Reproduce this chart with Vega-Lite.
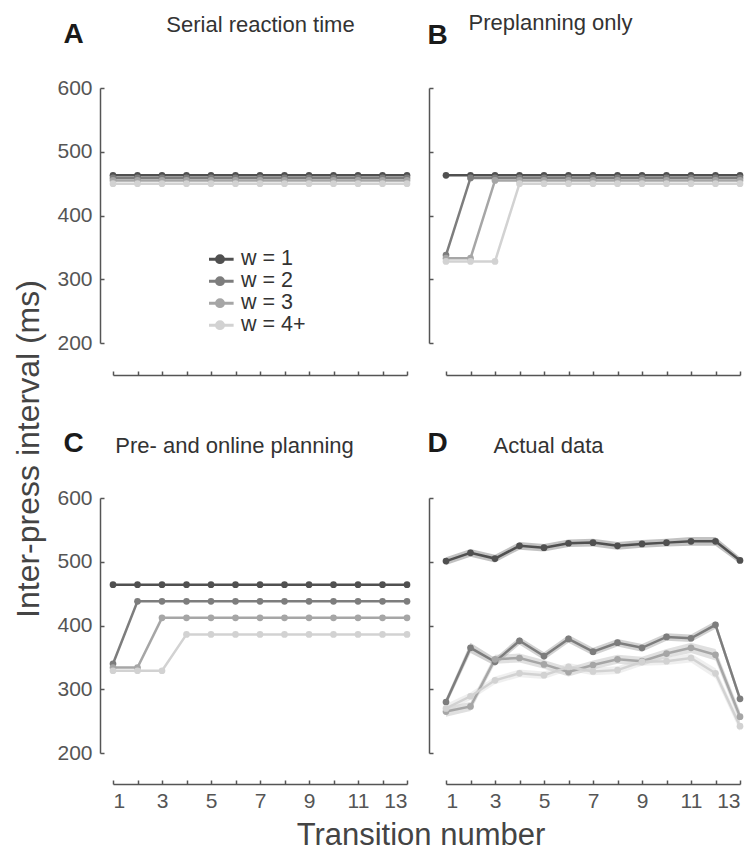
{
  "$schema": "https://vega.github.io/schema/vega-lite/v6.json",
  "background": "white",
  "padding": {"left": 12, "top": 11, "right": 5, "bottom": 3},
  "autosize": {"type": "pad"},
  "config": {
    "view": {"stroke": null},
    "font": "Liberation Sans",
    "axis": {
      "grid": false,
      "domainColor": "#555555",
      "domainWidth": 1.5,
      "tickColor": "#555555",
      "tickWidth": 1.5,
      "tickSize": -4,
      "labelColor": "#555555",
      "labelFont": "Liberation Sans",
      "labelFontSize": 21,
      "labelPadding": 12,
      "titleFont": "Liberation Sans",
      "titleFontSize": 28,
      "titleFontWeight": "bold",
      "titleColor": "#1a1a1a"
    },
    "axisX": {
      "titleFontSize": 22,
      "titleFontWeight": "normal",
      "titleColor": "#333333",
      "titleAngle": 0,
      "titleAlign": "center",
      "titleBaseline": "alphabetic"
    }
  },
  "datasets": {
    "sim": [
      {"p":"A","w":"w = 1","t":1,"v":463},{"p":"A","w":"w = 1","t":2,"v":463},{"p":"A","w":"w = 1","t":3,"v":463},{"p":"A","w":"w = 1","t":4,"v":463},{"p":"A","w":"w = 1","t":5,"v":463},{"p":"A","w":"w = 1","t":6,"v":463},{"p":"A","w":"w = 1","t":7,"v":463},{"p":"A","w":"w = 1","t":8,"v":463},{"p":"A","w":"w = 1","t":9,"v":463},{"p":"A","w":"w = 1","t":10,"v":463},{"p":"A","w":"w = 1","t":11,"v":463},{"p":"A","w":"w = 1","t":12,"v":463},{"p":"A","w":"w = 1","t":13,"v":463},
      {"p":"A","w":"w = 2","t":1,"v":459},{"p":"A","w":"w = 2","t":2,"v":459},{"p":"A","w":"w = 2","t":3,"v":459},{"p":"A","w":"w = 2","t":4,"v":459},{"p":"A","w":"w = 2","t":5,"v":459},{"p":"A","w":"w = 2","t":6,"v":459},{"p":"A","w":"w = 2","t":7,"v":459},{"p":"A","w":"w = 2","t":8,"v":459},{"p":"A","w":"w = 2","t":9,"v":459},{"p":"A","w":"w = 2","t":10,"v":459},{"p":"A","w":"w = 2","t":11,"v":459},{"p":"A","w":"w = 2","t":12,"v":459},{"p":"A","w":"w = 2","t":13,"v":459},
      {"p":"A","w":"w = 3","t":1,"v":455},{"p":"A","w":"w = 3","t":2,"v":455},{"p":"A","w":"w = 3","t":3,"v":455},{"p":"A","w":"w = 3","t":4,"v":455},{"p":"A","w":"w = 3","t":5,"v":455},{"p":"A","w":"w = 3","t":6,"v":455},{"p":"A","w":"w = 3","t":7,"v":455},{"p":"A","w":"w = 3","t":8,"v":455},{"p":"A","w":"w = 3","t":9,"v":455},{"p":"A","w":"w = 3","t":10,"v":455},{"p":"A","w":"w = 3","t":11,"v":455},{"p":"A","w":"w = 3","t":12,"v":455},{"p":"A","w":"w = 3","t":13,"v":455},
      {"p":"A","w":"w = 4+","t":1,"v":450},{"p":"A","w":"w = 4+","t":2,"v":450},{"p":"A","w":"w = 4+","t":3,"v":450},{"p":"A","w":"w = 4+","t":4,"v":450},{"p":"A","w":"w = 4+","t":5,"v":450},{"p":"A","w":"w = 4+","t":6,"v":450},{"p":"A","w":"w = 4+","t":7,"v":450},{"p":"A","w":"w = 4+","t":8,"v":450},{"p":"A","w":"w = 4+","t":9,"v":450},{"p":"A","w":"w = 4+","t":10,"v":450},{"p":"A","w":"w = 4+","t":11,"v":450},{"p":"A","w":"w = 4+","t":12,"v":450},{"p":"A","w":"w = 4+","t":13,"v":450},
      {"p":"B","w":"w = 1","t":1,"v":463},{"p":"B","w":"w = 1","t":2,"v":463},{"p":"B","w":"w = 1","t":3,"v":463},{"p":"B","w":"w = 1","t":4,"v":463},{"p":"B","w":"w = 1","t":5,"v":463},{"p":"B","w":"w = 1","t":6,"v":463},{"p":"B","w":"w = 1","t":7,"v":463},{"p":"B","w":"w = 1","t":8,"v":463},{"p":"B","w":"w = 1","t":9,"v":463},{"p":"B","w":"w = 1","t":10,"v":463},{"p":"B","w":"w = 1","t":11,"v":463},{"p":"B","w":"w = 1","t":12,"v":463},{"p":"B","w":"w = 1","t":13,"v":463},
      {"p":"B","w":"w = 2","t":1,"v":338},{"p":"B","w":"w = 2","t":2,"v":459},{"p":"B","w":"w = 2","t":3,"v":459},{"p":"B","w":"w = 2","t":4,"v":459},{"p":"B","w":"w = 2","t":5,"v":459},{"p":"B","w":"w = 2","t":6,"v":459},{"p":"B","w":"w = 2","t":7,"v":459},{"p":"B","w":"w = 2","t":8,"v":459},{"p":"B","w":"w = 2","t":9,"v":459},{"p":"B","w":"w = 2","t":10,"v":459},{"p":"B","w":"w = 2","t":11,"v":459},{"p":"B","w":"w = 2","t":12,"v":459},{"p":"B","w":"w = 2","t":13,"v":459},
      {"p":"B","w":"w = 3","t":1,"v":333},{"p":"B","w":"w = 3","t":2,"v":333},{"p":"B","w":"w = 3","t":3,"v":455},{"p":"B","w":"w = 3","t":4,"v":455},{"p":"B","w":"w = 3","t":5,"v":455},{"p":"B","w":"w = 3","t":6,"v":455},{"p":"B","w":"w = 3","t":7,"v":455},{"p":"B","w":"w = 3","t":8,"v":455},{"p":"B","w":"w = 3","t":9,"v":455},{"p":"B","w":"w = 3","t":10,"v":455},{"p":"B","w":"w = 3","t":11,"v":455},{"p":"B","w":"w = 3","t":12,"v":455},{"p":"B","w":"w = 3","t":13,"v":455},
      {"p":"B","w":"w = 4+","t":1,"v":328},{"p":"B","w":"w = 4+","t":2,"v":328},{"p":"B","w":"w = 4+","t":3,"v":328},{"p":"B","w":"w = 4+","t":4,"v":450},{"p":"B","w":"w = 4+","t":5,"v":450},{"p":"B","w":"w = 4+","t":6,"v":450},{"p":"B","w":"w = 4+","t":7,"v":450},{"p":"B","w":"w = 4+","t":8,"v":450},{"p":"B","w":"w = 4+","t":9,"v":450},{"p":"B","w":"w = 4+","t":10,"v":450},{"p":"B","w":"w = 4+","t":11,"v":450},{"p":"B","w":"w = 4+","t":12,"v":450},{"p":"B","w":"w = 4+","t":13,"v":450},
      {"p":"C","w":"w = 1","t":1,"v":464},{"p":"C","w":"w = 1","t":2,"v":464},{"p":"C","w":"w = 1","t":3,"v":464},{"p":"C","w":"w = 1","t":4,"v":464},{"p":"C","w":"w = 1","t":5,"v":464},{"p":"C","w":"w = 1","t":6,"v":464},{"p":"C","w":"w = 1","t":7,"v":464},{"p":"C","w":"w = 1","t":8,"v":464},{"p":"C","w":"w = 1","t":9,"v":464},{"p":"C","w":"w = 1","t":10,"v":464},{"p":"C","w":"w = 1","t":11,"v":464},{"p":"C","w":"w = 1","t":12,"v":464},{"p":"C","w":"w = 1","t":13,"v":464},
      {"p":"C","w":"w = 2","t":1,"v":340},{"p":"C","w":"w = 2","t":2,"v":438},{"p":"C","w":"w = 2","t":3,"v":438},{"p":"C","w":"w = 2","t":4,"v":438},{"p":"C","w":"w = 2","t":5,"v":438},{"p":"C","w":"w = 2","t":6,"v":438},{"p":"C","w":"w = 2","t":7,"v":438},{"p":"C","w":"w = 2","t":8,"v":438},{"p":"C","w":"w = 2","t":9,"v":438},{"p":"C","w":"w = 2","t":10,"v":438},{"p":"C","w":"w = 2","t":11,"v":438},{"p":"C","w":"w = 2","t":12,"v":438},{"p":"C","w":"w = 2","t":13,"v":438},
      {"p":"C","w":"w = 3","t":1,"v":334},{"p":"C","w":"w = 3","t":2,"v":334},{"p":"C","w":"w = 3","t":3,"v":412},{"p":"C","w":"w = 3","t":4,"v":412},{"p":"C","w":"w = 3","t":5,"v":412},{"p":"C","w":"w = 3","t":6,"v":412},{"p":"C","w":"w = 3","t":7,"v":412},{"p":"C","w":"w = 3","t":8,"v":412},{"p":"C","w":"w = 3","t":9,"v":412},{"p":"C","w":"w = 3","t":10,"v":412},{"p":"C","w":"w = 3","t":11,"v":412},{"p":"C","w":"w = 3","t":12,"v":412},{"p":"C","w":"w = 3","t":13,"v":412},
      {"p":"C","w":"w = 4+","t":1,"v":329},{"p":"C","w":"w = 4+","t":2,"v":329},{"p":"C","w":"w = 4+","t":3,"v":329},{"p":"C","w":"w = 4+","t":4,"v":386},{"p":"C","w":"w = 4+","t":5,"v":386},{"p":"C","w":"w = 4+","t":6,"v":386},{"p":"C","w":"w = 4+","t":7,"v":386},{"p":"C","w":"w = 4+","t":8,"v":386},{"p":"C","w":"w = 4+","t":9,"v":386},{"p":"C","w":"w = 4+","t":10,"v":386},{"p":"C","w":"w = 4+","t":11,"v":386},{"p":"C","w":"w = 4+","t":12,"v":386},{"p":"C","w":"w = 4+","t":13,"v":386}
    ],
    "act": [
      {"w":"w = 1","t":1,"v":501,"se":6},{"w":"w = 1","t":2,"v":514,"se":6},{"w":"w = 1","t":3,"v":505,"se":6},{"w":"w = 1","t":4,"v":525,"se":6},{"w":"w = 1","t":5,"v":522,"se":6},{"w":"w = 1","t":6,"v":529,"se":6},{"w":"w = 1","t":7,"v":530,"se":6},{"w":"w = 1","t":8,"v":525,"se":6},{"w":"w = 1","t":9,"v":528,"se":6},{"w":"w = 1","t":10,"v":530,"se":6},{"w":"w = 1","t":11,"v":532,"se":7},{"w":"w = 1","t":12,"v":532,"se":7},{"w":"w = 1","t":13,"v":502,"se":5},
      {"w":"w = 2","t":1,"v":280,"se":6},{"w":"w = 2","t":2,"v":365,"se":8},{"w":"w = 2","t":3,"v":343,"se":6},{"w":"w = 2","t":4,"v":376,"se":6},{"w":"w = 2","t":5,"v":352,"se":6},{"w":"w = 2","t":6,"v":379,"se":6},{"w":"w = 2","t":7,"v":359,"se":6},{"w":"w = 2","t":8,"v":373,"se":6},{"w":"w = 2","t":9,"v":365,"se":6},{"w":"w = 2","t":10,"v":382,"se":6},{"w":"w = 2","t":11,"v":380,"se":6},{"w":"w = 2","t":12,"v":401,"se":6},{"w":"w = 2","t":13,"v":285,"se":6},
      {"w":"w = 3","t":1,"v":265,"se":8},{"w":"w = 3","t":2,"v":273,"se":7},{"w":"w = 3","t":3,"v":347,"se":7},{"w":"w = 3","t":4,"v":349,"se":7},{"w":"w = 3","t":5,"v":339,"se":7},{"w":"w = 3","t":6,"v":327,"se":7},{"w":"w = 3","t":7,"v":338,"se":7},{"w":"w = 3","t":8,"v":347,"se":7},{"w":"w = 3","t":9,"v":344,"se":7},{"w":"w = 3","t":10,"v":356,"se":7},{"w":"w = 3","t":11,"v":365,"se":8},{"w":"w = 3","t":12,"v":354,"se":9},{"w":"w = 3","t":13,"v":257,"se":9},
      {"w":"w = 4+","t":1,"v":270,"se":7},{"w":"w = 4+","t":2,"v":289,"se":6},{"w":"w = 4+","t":3,"v":314,"se":6},{"w":"w = 4+","t":4,"v":325,"se":6},{"w":"w = 4+","t":5,"v":322,"se":6},{"w":"w = 4+","t":6,"v":335,"se":6},{"w":"w = 4+","t":7,"v":328,"se":6},{"w":"w = 4+","t":8,"v":330,"se":6},{"w":"w = 4+","t":9,"v":343,"se":6},{"w":"w = 4+","t":10,"v":344,"se":6},{"w":"w = 4+","t":11,"v":349,"se":7},{"w":"w = 4+","t":12,"v":325,"se":8},{"w":"w = 4+","t":13,"v":242,"se":8}
    ]
  },
  "title": {"text": "Inter-press interval (ms)", "orient": "left", "anchor": "middle", "frame": "bounds", "fontSize": 32, "fontWeight": "normal", "color": "#444444", "offset": -21, "baseline": "bottom", "dx": -18},
  "resolve": {"scale": {"color": "independent"}, "legend": {"color": "independent"}},
  "vconcat": [
    {
      "title": {"text": "Transition number", "orient": "bottom", "anchor": "middle", "frame": "bounds", "fontSize": 31, "fontWeight": "normal", "color": "#444444", "offset": 10, "baseline": "top", "dx": 20},
      "resolve": {"scale": {"color": "independent"}, "legend": {"color": "independent"}},
      "spacing": 53,
      "vconcat": [
        {
          "spacing": 14,
          "resolve": {"scale": {"color": "independent"}, "legend": {"color": "independent"}},
          "hconcat": [
            {
              "width": 294, "height": 255,
              "data": {"name": "sim"},
              "transform": [{"filter": "datum.p === 'A'"}],
              "encoding": {
                "x": {"field": "t", "type": "quantitative", "scale": {"domain": [1, 13], "nice": false, "zero": false}, "axis": {"values": [1,2,3,4,5,6,7,8,9,10,11,12,13], "labels": false, "offset": 32, "title": "Serial reaction time", "titleX": 147, "titleY": -344}},
                "y": {"field": "v", "type": "quantitative", "scale": {"domain": [200, 600], "nice": false, "zero": false}, "axis": {"values": [200,300,400,500,600], "offset": 13, "title": "A", "titleAngle": 0, "titleAlign": "center", "titleBaseline": "alphabetic", "titleX": -27, "titleY": -46}},
                "color": {"field": "w", "type": "nominal", "scale": {"domain": ["w = 1","w = 2","w = 3","w = 4+"], "range": ["#505050","#7d7d7d","#a6a6a6","#d2d2d2"]},
                  "legend": {"orient": "none", "legendX": 96, "legendY": 162, "title": null, "labelFontSize": 21.5, "labelFont": "Liberation Sans", "labelColor": "#333333", "symbolType": "M-1.5,0L1.5,0M0.38,0A0.38,0.38,0,1,1,-0.38,0A0.38,0.38,0,1,1,0.38,0Z", "symbolSize": 330, "symbolStrokeWidth": 3, "rowPadding": 0, "clipHeight": 18.3, "labelOffset": 10}}
              },
              "layer": [
                {"mark": {"type": "line", "strokeWidth": 2.5, "clip": false}},
                {"mark": {"type": "point", "filled": true, "size": 45, "opacity": 1, "clip": false}}
              ]
            },
            {
              "width": 294, "height": 255,
              "data": {"name": "sim"},
              "transform": [{"filter": "datum.p === 'B'"}],
              "encoding": {
                "x": {"field": "t", "type": "quantitative", "scale": {"domain": [1, 13], "nice": false, "zero": false}, "axis": {"values": [1,2,3,4,5,6,7,8,9,10,11,12,13], "labels": false, "offset": 32, "title": "Preplanning only", "titleX": 104, "titleY": -346}},
                "y": {"field": "v", "type": "quantitative", "scale": {"domain": [200, 600], "nice": false, "zero": false}, "axis": {"values": [200,300,400,500,600], "labels": false, "offset": 17, "title": "B", "titleAngle": 0, "titleAlign": "center", "titleBaseline": "alphabetic", "titleX": 8, "titleY": -45}},
                "color": {"field": "w", "type": "nominal", "scale": {"domain": ["w = 1","w = 2","w = 3","w = 4+"], "range": ["#505050","#7d7d7d","#a6a6a6","#d2d2d2"]}, "legend": null}
              },
              "layer": [
                {"mark": {"type": "line", "strokeWidth": 2.5, "clip": false}},
                {"mark": {"type": "point", "filled": true, "size": 45, "opacity": 1, "clip": false}}
              ]
            }
          ]
        },
        {
          "spacing": 14,
          "resolve": {"scale": {"color": "independent"}, "legend": {"color": "independent"}},
          "hconcat": [
            {
              "width": 294, "height": 255,
              "data": {"name": "sim"},
              "transform": [{"filter": "datum.p === 'C'"}],
              "encoding": {
                "x": {"field": "t", "type": "quantitative", "scale": {"domain": [1, 13], "nice": false, "zero": false}, "axis": {"values": [1,2,3,4,5,6,7,8,9,10,11,12,13], "labelExpr": "datum.value % 2 === 1 ? datum.label : ''", "labelPadding": 10, "offset": 31, "title": "Pre- and online planning", "titleX": 121, "titleY": -332}},
                "y": {"field": "v", "type": "quantitative", "scale": {"domain": [200, 600], "nice": false, "zero": false}, "axis": {"values": [200,300,400,500,600], "offset": 13, "title": "C", "titleAngle": 0, "titleAlign": "center", "titleBaseline": "alphabetic", "titleX": -27, "titleY": -47}},
                "color": {"field": "w", "type": "nominal", "scale": {"domain": ["w = 1","w = 2","w = 3","w = 4+"], "range": ["#505050","#7d7d7d","#a6a6a6","#d2d2d2"]}, "legend": null}
              },
              "layer": [
                {"mark": {"type": "line", "strokeWidth": 2.5, "clip": false}},
                {"mark": {"type": "point", "filled": true, "size": 45, "opacity": 1, "clip": false}}
              ]
            },
            {
              "width": 294, "height": 255,
              "data": {"name": "act"},
              "encoding": {
                "x": {"field": "t", "type": "quantitative", "scale": {"domain": [1, 13], "nice": false, "zero": false}, "axis": {"values": [1,2,3,4,5,6,7,8,9,10,11,12,13], "labelExpr": "datum.value % 2 === 1 ? datum.label : ''", "labelPadding": 10, "offset": 31, "title": "Actual data", "titleX": 102, "titleY": -332}},
                "y": {"field": "v", "type": "quantitative", "scale": {"domain": [200, 600], "nice": false, "zero": false}, "axis": {"values": [200,300,400,500,600], "labels": false, "offset": 17, "title": "D", "titleAngle": 0, "titleAlign": "center", "titleBaseline": "alphabetic", "titleX": 8, "titleY": -47}},
                "color": {"field": "w", "type": "nominal", "scale": {"domain": ["w = 1","w = 2","w = 3","w = 4+"], "range": ["#505050","#7d7d7d","#a6a6a6","#d2d2d2"]}, "legend": null}
              },
              "layer": [
                {"mark": {"type": "errorband", "opacity": 0.35, "clip": false}, "encoding": {"yError": {"field": "se"}}},
                {"mark": {"type": "line", "strokeWidth": 2.5, "clip": false}},
                {"mark": {"type": "point", "filled": true, "size": 45, "opacity": 1, "clip": false}}
              ]
            }
          ]
        }
      ]
    }
  ]
}
